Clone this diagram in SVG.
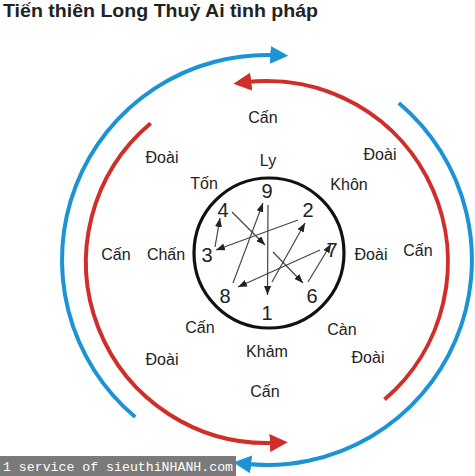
<svg xmlns="http://www.w3.org/2000/svg" width="475" height="476" viewBox="0 0 475 476">
<style>
.lbl{font-family:"Liberation Sans",Arial,sans-serif;font-size:16px;fill:#222;text-anchor:middle}
.num{font-family:"Liberation Sans",Arial,sans-serif;font-size:20px;fill:#222;text-anchor:middle}
.blue{fill:none;stroke:#1b93d4;stroke-width:4}
.red{fill:none;stroke:#cf2e29;stroke-width:4}
.seq{stroke:#444;stroke-width:1.2;fill:none;marker-end:url(#ah)}
</style>
<defs>
<marker id="mb" markerUnits="userSpaceOnUse" markerWidth="18" markerHeight="18" refX="6" refY="9" orient="auto"><path d="M0,0 L18,9 L0,18 z" fill="#1b93d4"/></marker>
<marker id="mr" markerUnits="userSpaceOnUse" markerWidth="18" markerHeight="18" refX="6" refY="9" orient="auto"><path d="M0,0 L18,9 L0,18 z" fill="#cf2e29"/></marker>
<marker id="ah" markerUnits="userSpaceOnUse" markerWidth="9" markerHeight="7" refX="9" refY="3.5" orient="auto"><path d="M0,0 L9,3.5 L0,7 z" fill="#222"/></marker>
</defs>
<rect width="475" height="476" fill="#fff"/>
<text x="3" y="17" font-family="'Liberation Sans',Arial,sans-serif" font-size="19" font-weight="bold" fill="#222" textLength="315" lengthAdjust="spacingAndGlyphs">Tiến thiên Long Thuỷ Ai tình pháp</text>
<g id="connectors">
<path id="blue-left" class="blue" d="M135.2,417 A205,205 0 0 1 276.3,55.2" marker-end="url(#mb)"/>
<path id="blue-right" class="blue" d="M398.8,103 A205,205 0 0 1 245.2,463.8" marker-end="url(#mb)"/>
<path id="red-right" class="red" d="M384.5,399.6 A181,181 0 0 0 245.3,82.3" marker-end="url(#mr)"/>
<path id="red-left" class="red" d="M150.7,123.3 A181,181 0 0 0 275.8,442.8" marker-end="url(#mr)"/>
<line class="seq" x1="268" y1="205" x2="267.5" y2="295"/>
<line class="seq" x1="272" y1="282" x2="305" y2="223"/>
<line class="seq" x1="298" y1="220" x2="216" y2="250"/>
<line class="seq" x1="215" y1="247" x2="220" y2="218"/>
<line class="seq" x1="232" y1="212" x2="265" y2="245"/>
<line class="seq" x1="273" y1="252" x2="303" y2="283"/>
<line class="seq" x1="308" y1="282" x2="331" y2="244"/>
<line class="seq" x1="320" y1="250" x2="238" y2="287"/>
<line class="seq" x1="233" y1="283" x2="263" y2="203"/>
</g>
<g id="circle"><circle cx="269" cy="253" r="75" fill="none" stroke="#111" stroke-width="3.2"/></g>
<g id="numbers">
<text class="num" x="267" y="198">9</text>
<text class="num" x="223" y="217">4</text>
<text class="num" x="308" y="217">2</text>
<text class="num" x="207" y="262">3</text>
<text class="num" x="332" y="257">7</text>
<text class="num" x="225" y="303">8</text>
<text class="num" x="312" y="303">6</text>
<text class="num" x="267" y="320">1</text>
</g>
<g id="inner-labels">
<text class="lbl" x="268" y="166">Ly</text>
<text class="lbl" x="204" y="189">Tốn</text>
<text class="lbl" x="349" y="190">Khôn</text>
<text class="lbl" x="166" y="260">Chấn</text>
<text class="lbl" x="371" y="260">Đoài</text>
<text class="lbl" x="200" y="333">Cấn</text>
<text class="lbl" x="342" y="335">Càn</text>
<text class="lbl" x="267" y="357">Khảm</text>
</g>
<g id="outer-labels">
<text class="lbl" x="263" y="123">Cấn</text>
<text class="lbl" x="162" y="163">Đoài</text>
<text class="lbl" x="380" y="160">Đoài</text>
<text class="lbl" x="116" y="260">Cấn</text>
<text class="lbl" x="418" y="256">Cấn</text>
<text class="lbl" x="162" y="365">Đoài</text>
<text class="lbl" x="368" y="363">Đoài</text>
<text class="lbl" x="265" y="397">Cấn</text>
</g>
<g id="watermark">
<rect x="0" y="456" width="236" height="20" fill="#7a7a7a"/>
<text x="3" y="471" font-family="'Liberation Mono','Courier New',monospace" font-size="13" fill="#fff" textLength="230" lengthAdjust="spacingAndGlyphs">1 service of sieuthiNHANH.com</text>
</g>
</svg>
